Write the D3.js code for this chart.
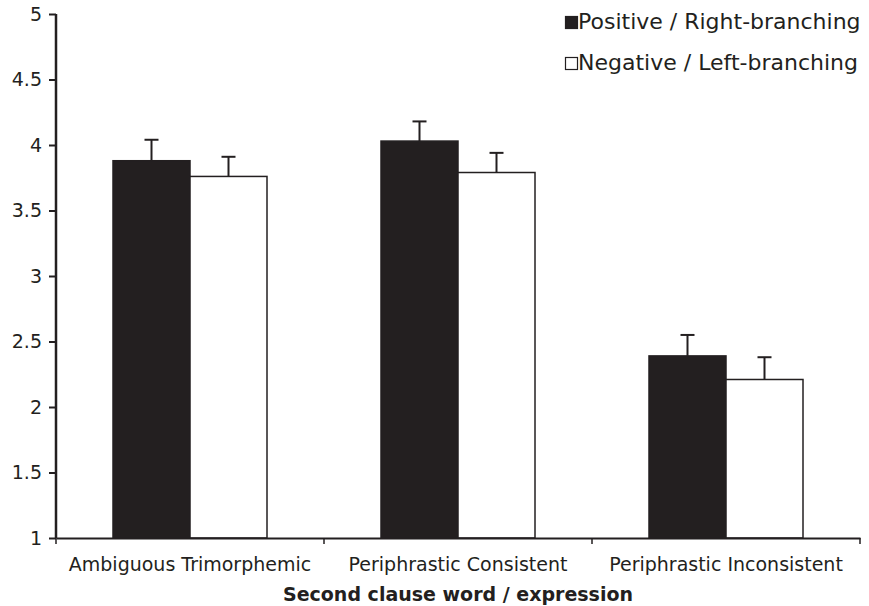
<!DOCTYPE html>
<html>
<head>
<meta charset="utf-8">
<script src="https://cdn.jsdelivr.net/npm/d3@7"></script>
<style>
  body { margin: 0; background: #fff; }
  text { font-family: "DejaVu Sans", Verdana, sans-serif; fill: #231f20; }
</style>
</head>
<body>
<svg></svg>
<script>
const width = 869;
const height = 606;

const categories = ['Ambiguous Trimorphemic', 'Periphrastic Consistent', 'Periphrastic Inconsistent']
const seriesNames = ['Positive / Right-branching', 'Negative / Left-branching']
const positive = [3.88, 4.03, 2.39]
const negative = [3.76, 3.79, 2.21]
const positiveErr = [0.16, 0.15, 0.16]
const negativeErr = [0.15, 0.15, 0.17]
const yTicks = [1, 1.5, 2, 2.5, 3, 3.5, 4, 4.5, 5]

const margin = { top: 14, right: 9, bottom: 68, left: 56 }
const ink = '#231f20'

const svg = d3.select('svg')
  .attr('width', width)
  .attr('height', height)

const x = d3.scaleBand()
  .domain(categories)
  .range([margin.left, width - margin.right])

const y = d3.scaleLinear()
  .domain([1, 5])
  .range([height - margin.bottom, margin.top])

const barW = 77

const rows = categories.map((c, i) => [
  { cat: c, s: 0, v: positive[i], e: positiveErr[i] },
  { cat: c, s: 1, v: negative[i], e: negativeErr[i] }
]).flat()

const barX = d => x(d.cat) + x.bandwidth() / 2 - (d.s === 0 ? barW : 0)

svg.append('g')
  .selectAll('rect')
  .data(rows)
  .join('rect')
    .attr('x', barX)
    .attr('y', d => y(d.v))
    .attr('width', barW)
    .attr('height', d => y(1) - y(d.v))
    .attr('fill', d => d.s === 0 ? ink : '#fff')
    .attr('stroke', ink)
    .attr('stroke-width', 1.5)

// error bars, upper half only
const err = svg.append('g').attr('stroke', ink).attr('stroke-width', 2)
err.selectAll('line.v')
  .data(rows)
  .join('line')
    .attr('class', 'v')
    .attr('x1', d => barX(d) + barW / 2)
    .attr('x2', d => barX(d) + barW / 2)
    .attr('y1', d => y(d.v))
    .attr('y2', d => y(d.v + d.e))
err.selectAll('line.c')
  .data(rows)
  .join('line')
    .attr('class', 'c')
    .attr('x1', d => barX(d) + barW / 2 - 7)
    .attr('x2', d => barX(d) + barW / 2 + 7)
    .attr('y1', d => y(d.v + d.e))
    .attr('y2', d => y(d.v + d.e))

// y axis
const yAxis = svg.append('g')
  .attr('transform', `translate(${margin.left},0)`)
  .call(d3.axisLeft(y).tickValues(yTicks).tickSize(7).tickPadding(7).tickFormat(d3.format('')))
yAxis.select('.domain').attr('stroke', ink).attr('stroke-width', 2.5).attr('d', `M0,${margin.top}V${y(1)}`)
yAxis.selectAll('.tick line').attr('stroke', ink).attr('stroke-width', 2)
yAxis.selectAll('.tick text').attr('font-size', 19).attr('fill', '#333')

// x axis
const xAxis = svg.append('g')
  .attr('transform', `translate(0,${y(1)})`)
  .call(d3.axisBottom(x).tickSize(0).tickPadding(20))
xAxis.select('.domain').attr('stroke', ink).attr('stroke-width', 2)
xAxis.selectAll('.tick text').attr('font-size', 19).attr('fill', '#333')
xAxis.selectAll('line.sep')
  .data(d3.range(categories.length + 1))
  .join('line')
    .attr('class', 'sep')
    .attr('x1', i => margin.left + i * x.step())
    .attr('x2', i => margin.left + i * x.step())
    .attr('y1', 0)
    .attr('y2', 6)
    .attr('stroke', ink)
    .attr('stroke-width', 1.5)

svg.append('text')
  .attr('x', x.range()[0] + (x.range()[1] - x.range()[0]) / 2)
  .attr('y', 601)
  .attr('text-anchor', 'middle')
  .attr('font-size', 19)
  .attr('font-weight', 'bold')
  .text('Second clause word / expression')

// legend
const legend = svg.append('g')
  .selectAll('g')
  .data(seriesNames)
  .join('g')
    .attr('transform', (d, i) => `translate(565,${16 + i * 41})`)
legend.append('rect')
  .attr('x', 0.5).attr('y', 0.5)
  .attr('width', 12).attr('height', 12)
  .attr('fill', (d, i) => i === 0 ? ink : '#fff')
  .attr('stroke', ink)
  .attr('stroke-width', 1.2)
legend.append('text')
  .attr('x', 13)
  .attr('y', 13)
  .attr('font-size', 22)
  .attr('fill', '#222')
  .text(d => d)
</script>
</body>
</html>
